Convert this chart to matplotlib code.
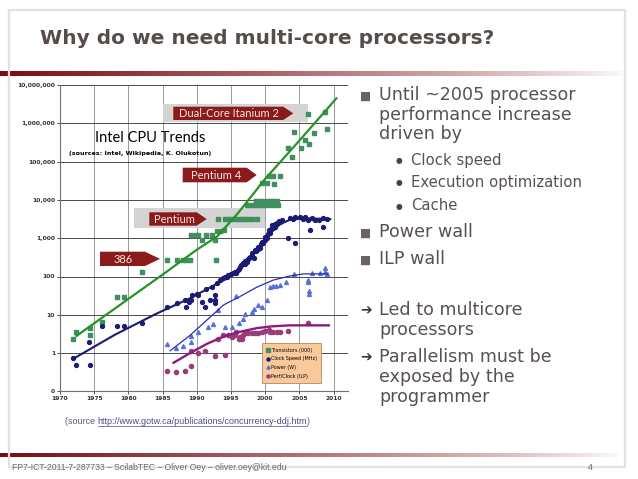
"""Slide: Why do we need multi-core processors? -- Intel CPU trends chart + bullet text."""
import numpy as np
import matplotlib
matplotlib.use("Agg")
import matplotlib.pyplot as plt
from matplotlib.patches import Polygon, Rectangle
from matplotlib.lines import Line2D
from matplotlib.transforms import Affine2D
from matplotlib.ticker import FixedLocator, FixedFormatter, NullLocator

W, H = 638, 479

# ---- data ------------------------------------------------------------------
tr_year = [1971.9, 1972.3, 1974.4, 1974.4, 1976.2, 1978.4, 1979.4, 1982.0, 1985.7, 1987.1,
           1988.0, 1988.4, 1989.0, 1989.2, 1989.9, 1990.2, 1990.7, 1991.4, 1992.2, 1992.7,
           1992.8, 1992.9, 1993.4, 1994.0,
           1993.1, 1994.1, 1994.6, 1995.1, 1995.6, 1996.1, 1996.6, 1997.0, 1997.5, 1998.0, 1998.8,
           1997.3, 1997.8, 1998.3, 1998.8, 1999.3, 1999.8, 2000.3, 2000.8, 2001.3, 2001.9,
           1998.7, 1999.2, 1999.7, 2000.2, 2000.7, 2001.2, 2001.7,
           1999.6, 2000.2, 2000.6, 2001.2, 2002.1, 2001.3, 2003.3, 2003.9, 2004.2, 2005.2,
           2005.8, 2006.3, 2006.4, 2007.1, 2008.7, 2009.0]
tr_val = [2.3, 3.5, 4.5, 3.0, 6.5, 29, 29, 134, 275, 275,
          275, 275, 275, 1200, 1200, 1200, 900, 1200, 1200, 900,
          275, 1500, 1500, 1600,
          3100, 3100, 3100, 3100, 3100, 3100, 3100, 3100, 3100, 3100, 3100,
          7500, 7500, 7500, 7500, 7500, 7500, 7500, 7500, 7500, 7500,
          9500, 9500, 9500, 9500, 9500, 9500, 9500,
          28000, 28000, 42000, 42000, 42000, 25500, 220000, 135000, 600000, 230000,
          370000, 1700000, 280000, 570000, 2000000, 710000]

cl_year = [1971.9, 1972.3, 1974.3, 1974.4, 1976.2, 1978.4, 1979.4, 1982.0, 1985.7, 1987.1,
           1988.2, 1988.4, 1988.9, 1989.2, 1989.3, 1990.0, 1990.2, 1990.7, 1991.2, 1991.4,
           1991.9, 1992.2, 1992.7, 1992.7, 1992.7, 1992.9, 1993.4, 1993.8, 1994.1, 1994.4,
           1994.6, 1995.0, 1995.3, 1995.6, 1995.8, 1996.0, 1996.3, 1996.5, 1996.8, 1997.0,
           1997.3, 1997.5, 1997.8, 1998.0, 1998.3, 1998.5, 1998.7, 1999.0, 1999.2, 1999.5,
           1999.7, 2000.0, 2000.2, 2000.5, 2000.7, 2001.0, 2001.2, 2001.5, 2001.7, 2002.0,
           2002.2, 2002.5, 2003.4, 2003.6, 2004.0, 2004.4, 2004.4, 2005.1, 2005.5, 2005.8,
           2006.3, 2006.5, 2006.8, 2007.3, 2007.8, 2008.5, 2008.5, 2009.0,
           1996.2, 1997.1, 1997.6, 1998.1, 1998.9, 1999.4, 1999.9, 2000.4, 2000.9, 2001.4]
cl_val = [0.74, 0.5, 2, 0.5, 5, 5, 5, 6, 16, 20,
          25, 16, 22, 25, 33, 35, 33, 21, 16, 47,
          25, 54, 25, 33, 20, 69, 81, 90, 100, 95,
          110, 115, 125, 130, 120, 150, 180, 200, 225, 210,
          245, 280, 330, 350, 300, 490, 450, 600, 550, 810,
          750, 1100, 1000, 1600, 1400, 2200, 1800, 2400, 2500, 2800,
          2700, 3000, 1000, 3300, 3200, 3600, 740, 3500, 3200, 3600,
          2900, 1620, 3300, 3000, 2900, 3300, 2000, 3200,
          160, 260, 300, 400, 520, 700, 900, 1300, 1700, 2000]

pw_year = [1985.7, 1986.9, 1988.0, 1989.2, 1989.2, 1990.2, 1991.7, 1992.4, 1993.1, 1994.1,
           1995.1, 1995.7, 1996.1, 1996.8, 1997.0, 1998.0, 1998.3, 1999.0, 1999.6, 2000.3,
           2000.7, 2001.2, 2001.6, 2002.1, 2003.1, 2004.2, 2006.3, 2006.3, 2006.4, 2006.4,
           2006.8, 2008.0, 2008.7, 2008.7, 2009.0]
pw_val = [1.7, 1.35, 1.55, 2.0, 2.8, 3.6, 4.9, 5.7, 13.5, 4.9,
          4.9, 31, 6.2, 7.6, 10.4, 12, 13.8, 18, 15.8, 24,
          53, 57, 57, 60, 72, 118, 74, 80, 43, 35,
          126, 126, 163, 134, 118]

pc_year = [1985.7, 1986.9, 1988.2, 1989.2, 1989.1, 1990.2, 1991.2, 1992.6, 1994.1, 1993.1,
           1993.9, 1994.6, 1995.1, 1995.6, 1995.8, 1996.1, 1996.3, 1996.6, 1996.8, 1997.0,
           1997.5, 1998.0, 1998.5, 1999.0, 1999.5, 2000.0, 2000.5, 2000.7, 2001.2, 2001.7,
           2002.2, 2003.4, 2006.3]
pc_val = [0.35, 0.33, 0.35, 0.46, 1.15, 1.0, 1.15, 0.83, 0.9, 2.4,
          2.9, 3.0, 2.7, 2.9, 3.5, 2.4, 2.7, 2.4, 2.9, 3.3,
          3.4, 3.3, 3.4, 3.4, 3.6, 3.8, 4.0, 3.6, 3.6, 3.5,
          3.6, 3.7, 6.2]

# trend lines as drawn on the chart
tr_fit_year = [1972.4, 1980, 1985, 1990, 1993, 1996, 2000, 2005, 2010.4]
tr_fit = [2.8, 26, 112, 500, 1120, 4470, 35500, 355000, 4470000]
cl_fit_year = [1972, 1978, 1984, 1989, 1994.4, 1997, 1998.8, 2000.7, 2002.2, 2003.6, 2005.6, 2009.5]
cl_fit = [0.72, 3.0, 10.5, 27, 89, 200, 490, 1350, 2340, 3020, 3310, 3160]
pw_fit_year = [1986.1, 1989, 1993.9, 1996.3, 1998.8, 2001.2, 2003.6, 2005.6, 2009.2]
pw_fit = [1.15, 2.9, 18, 30, 53, 81, 103, 117, 117]
pc_fit_year = [1986.6, 1989, 1991.5, 1993.9, 1996, 1998.8, 2001, 2003.6, 2009.3]
pc_fit = [0.56, 1.0, 1.75, 2.7, 3.5, 4.5, 5.0, 5.3, 5.3]

y_ticks = [0.1, 1, 10, 100, 1e3, 1e4, 1e5, 1e6, 1e7]
y_labels = ["0", "1", "10", "100", "1,000", "10,000", "100,000", "1,000,000", "10,000,000"]
x_ticks = [1970, 1975, 1980, 1985, 1990, 1995, 2000, 2005, 2010]

series_labels = ["Transistors (000)", "Clock Speed (MHz)", "Power (W)", "Perf/Clock (ILP)"]

TXT = "#59514e"
RED = "#8b1a1a"

fig = plt.figure(figsize=(W / 100, H / 100), dpi=100)
fig.patch.set_facecolor("white")
# slide-pixel transform (origin top-left)
PX = Affine2D().scale(1 / W, -1 / H).translate(0, 1) + fig.transFigure

# ---- slide decoration ------------------------------------------------------
bg = fig.add_axes([0, 0, 1, 1], zorder=0)
bg.axis("off")
bg.add_patch(Rectangle((9, 10), 616, 457, fill=False, ec="#eadede", lw=1.6))
grad = np.linspace(0, 1, 256)
c0 = np.array([0.48, 0.05, 0.07]); c1 = np.array([1.0, 1.0, 1.0])
k = (1 - grad[:, None]) ** 0.8
img = (c0[None, :] * k + c1[None, :] * (1 - k))[None]
bg.imshow(img, extent=(0, 628, 76, 71), aspect="auto", interpolation="bilinear")
bg.imshow(img, extent=(0, 625, 457, 453), aspect="auto", interpolation="bilinear")
bg.set_xlim(0, W); bg.set_ylim(H, 0)

fig.text(40 / W, 1 - 38 / H, "Why do we need multi-core processors?", fontsize=14.5,
         fontweight="bold", color="#564d4a", va="center", ha="left")

# ---- chart ------------------------------------------------------------------
ax = fig.add_axes([60 / W, 1 - 391.4 / H, 288 / W, 306.4 / H], zorder=1)
ax.set_yscale("log")
ax.set_xlim(1970, 2012.1)
ax.set_ylim(0.1, 1e7)
ax.set_axisbelow(True)
ax.yaxis.set_major_locator(FixedLocator(y_ticks))
ax.yaxis.set_major_formatter(FixedFormatter(y_labels))
ax.yaxis.set_minor_locator(NullLocator())
ax.set_xticks(x_ticks)
ax.tick_params(axis="both", labelsize=4.3, length=2, width=0.6, pad=1.5, colors="#333333")
for lab in ax.get_xticklabels() + ax.get_yticklabels():
    lab.set_fontweight("bold")
ax.grid(axis="y", color="#4a4a4a", lw=0.7)
ax.grid(axis="x", color="#9a9a9a", lw=0.7)
for s in ("top", "right"):
    ax.spines[s].set_visible(False)
for s in ("left", "bottom"):
    ax.spines[s].set_color("#707070"); ax.spines[s].set_linewidth(0.8)

# gray bands + red arrow labels (slide-pixel coordinates)
for x0, y0, x1, y1 in [(163, 104, 308, 122), (134, 208, 265, 227.7)]:
    ax.add_patch(Rectangle((x0, y0), x1 - x0, y1 - y0, transform=PX, fc="#d4d4d4",
                           ec="none", zorder=1, clip_on=False))
for label, x0, x1, tip, y0, y1 in [("Dual-Core Itanium 2", 173.3, 283.3, 293.3, 106.7, 120),
                                   ("Pentium 4", 182.7, 246.7, 256.7, 167.7, 182.3),
                                   ("Pentium", 149.3, 196.7, 206.7, 212.3, 225.7),
                                   ("386", 100, 145, 160, 251.7, 266)]:
    ax.add_patch(Polygon([(x0, y0), (x1, y0), (tip, (y0 + y1) / 2), (x1, y1), (x0, y1)],
                         closed=True, transform=PX, fc=RED, ec="none", zorder=1.5, clip_on=False))
    ax.text((x0 + x1) / 2 + 1, (y0 + y1) / 2 + 0.5, label, transform=PX, fontsize=8,
            family="Lato", color="#f4e6e6", ha="center", va="center", zorder=1.6)

ax.text(150, 137.7, "Intel CPU Trends", transform=PX, fontsize=10.5, family="Lato",
        ha="center", va="center", color="black", zorder=4)
ax.text(140, 153.7, "(sources: Intel, Wikipedia, K. Olukotun)", transform=PX, fontsize=4.6,
        fontweight="bold", ha="center", va="center", color="black", zorder=4)

ax.plot(tr_year, tr_val, ls="none", marker="s", ms=2.2, mfc="#3f8f5f", mec="#3f8f5f", zorder=3)
ax.plot(cl_year, cl_val, ls="none", marker="o", ms=2.8, mfc="#1b1b78", mec="#1b1b78", zorder=3)
ax.plot(pw_year, pw_val, ls="none", marker="^", ms=2.8, mfc="#5672d8", mec="#5672d8", zorder=3)
ax.plot(pc_year, pc_val, ls="none", marker="o", ms=3.0, mfc="#9a3c78", mec="#9a3c78", zorder=3)
ax.plot(tr_fit_year, tr_fit, color="#259325", lw=1.6, zorder=3.5)
ax.plot(cl_fit_year, cl_fit, color="#1a1a70", lw=1.5, zorder=3.5)
ax.plot(pw_fit_year, pw_fit, color="#2a2ac0", lw=0.9, zorder=3.5)
ax.plot(pc_fit_year, pc_fit, color="#8a1a80", lw=1.7, zorder=3.5)

handles = [Line2D([], [], ls="none", marker="s", ms=2.2, color="#3f8f5f"),
           Line2D([], [], ls="none", marker="o", ms=2.2, color="#1b1b78"),
           Line2D([], [], ls="none", marker="^", ms=2.2, color="#5672d8"),
           Line2D([], [], ls="none", marker="o", ms=2.2, color="#9a3c78")]
leg = ax.legend(handles, series_labels, loc="lower left", bbox_to_anchor=(0.701, 0.027),
                fontsize=3.5, frameon=True, fancybox=False, handlelength=0.6,
                handletextpad=0.3, borderpad=0.9, labelspacing=0.75, borderaxespad=0)
leg.get_frame().set_facecolor("#f9c99b"); leg.get_frame().set_edgecolor("#b8875a")
leg.get_frame().set_linewidth(0.6); leg.get_frame().set_alpha(1)
leg.set_zorder(5)

# ---- bullet text ------------------------------------------------------------
def t(x, y, s, size=12.6):
    fig.text(x / W, 1 - y / H, s, fontsize=size, color=TXT, va="center", ha="left")

for y in (95, 232, 259):
    fig.text(360 / W, 1 - (y + 1) / H, "\u25a0", fontsize=8.5, color="#6a6260", va="center")
t(379, 95, "Until ~2005 processor")
t(379, 114.5, "performance increase")
t(379, 134, "driven by")
for y, s in [(160, "Clock speed"), (182.5, "Execution optimization"), (206, "Cache")]:
    fig.text(396 / W, 1 - y / H, "\u25cf", fontsize=5.5, color="#4a4240", va="center")
    t(411.5, y, s, size=10.7)
t(379, 232, "Power wall")
t(379, 259, "ILP wall")
for y in (310, 356.5):
    fig.text(360 / W, 1 - y / H, "\u2794", fontsize=10, color="#3a3230", va="center")
t(379, 310, "Led to multicore")
t(379, 330, "processors")
t(379, 356.5, "Parallelism must be")
t(379, 376.5, "exposed by the")
t(379, 396.5, "programmer")

# ---- source + footer --------------------------------------------------------
s1 = fig.text(65 / W, 1 - 422 / H, "(source ", fontsize=6.5, family="Liberation Sans",
              color="#5a5a80", va="center")
fig.canvas.draw()
r = fig.canvas.get_renderer()
bb = s1.get_window_extent(r)
url = fig.text(bb.x1 / W, 1 - 422 / H, "http://www.gotw.ca/publications/concurrency-ddj.htm",
               fontsize=6.5, family="Liberation Sans", color="#4a4a90", va="center")
bb2 = url.get_window_extent(r)
fig.text(bb2.x1 / W, 1 - 422 / H, ")", fontsize=6.5, family="Liberation Sans",
         color="#5a5a80", va="center")
fig.add_artist(Line2D([bb2.x0 / W, bb2.x1 / W], [(bb2.y0 + 0.5) / H] * 2, lw=0.5,
                      color="#4a4a90"))

fig.text(12 / W, 1 - 468 / H, "FP7-ICT-2011-7-287733 \u2013 ScilabTEC \u2013 Oliver Oey \u2013 oliver.oey@kit.edu",
         fontsize=6.2, family="Liberation Sans", color="#6a6a6a", va="center")
fig.text(588 / W, 1 - 468 / H, "4", fontsize=6.2, family="Liberation Sans", color="#6a6a6a",
         va="center")

fig.savefig("out.png", dpi=100)
